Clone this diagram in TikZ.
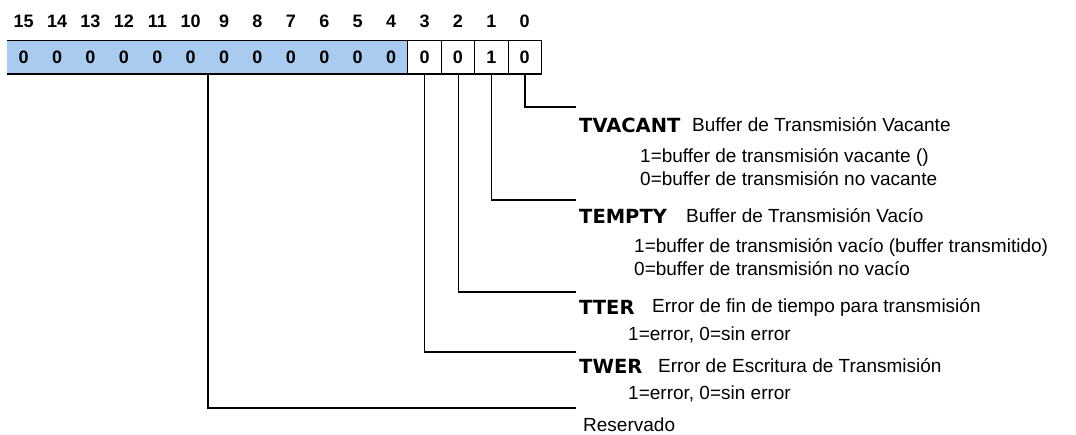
\documentclass[tikz,border=0pt]{standalone}
\usepackage{fontspec}
\setmainfont{Liberation Sans}
\newfontfamily\lblfont{DejaVu Sans}
\begin{document}
\begin{tikzpicture}[x=1pt,y=-1pt,
  bitnum/.style={font=\fontsize{18}{18}\selectfont\bfseries, anchor=center, inner sep=0pt},
  cellval/.style={font=\fontsize{18}{18}\selectfont\bfseries, anchor=center, inner sep=0pt},
  fieldname/.style={font=\lblfont\fontsize{19.5}{19.5}\selectfont\bfseries, anchor=west, inner sep=0pt},
  desc/.style={font=\fontsize{19}{19}\selectfont, anchor=west, inner sep=0pt},
  leader/.style={line width=1.2pt, black}]
\useasboundingbox (0,0) rectangle (1076,434);
% register
\fill[fill={rgb,255:red,169;green,203;blue,240}] (7,40) rectangle (407.8,74);
\draw[line width=1pt] (7,40) -- (541.6,40);
\draw[line width=1.6pt] (7,74) -- (541.6,74);
\draw[line width=1pt] (407.8,40) -- (407.8,74);
\foreach \i in {13,14,15} { \draw[line width=1pt] (7+33.4*\i,40) -- (7+33.4*\i,74); }
\draw[line width=1pt] (541.6,40) -- (541.6,74);
\foreach \b [count=\i from 0] in {15,14,...,0} {
  \node[bitnum] (n\b) at (7+33.4*\i+16.7,21) {\b};
}
\foreach \b/\v [count=\i from 0] in {15/0,14/0,13/0,12/0,11/0,10/0,9/0,8/0,7/0,6/0,5/0,4/0,3/0,2/0,1/1,0/0} {
  \node[cellval] (c\b) at (7+33.4*\i+16.7,57) {\v};
}
% leader origins (bottom of register)
\coordinate (b0) at (524.9,74);
\coordinate (b1) at (491.5,74);
\coordinate (b2) at (458.1,74);
\coordinate (b3) at (424.7,74);
\coordinate (b9) at (208,74);
% labels
\node[fieldname] (tvacant) at (579,125) {TVACANT};
\node[desc] (tvacantd) at (692,125) {Buffer de Transmisión Vacante};
\node[desc] (tvacant1) at (640,157) {1=buffer de transmisión vacante ()};
\node[desc] (tvacant0) at (640,179) {0=buffer de transmisión no vacante};
\node[fieldname] (tempty) at (579,216) {TEMPTY};
\node[desc] (temptyd) at (686,216) {Buffer de Transmisión Vacío};
\node[desc] (tempty1) at (634,247) {1=buffer de transmisión vacío (buffer transmitido)};
\node[desc] (tempty0) at (634,269) {0=buffer de transmisión no vacío};
\node[fieldname] (tter) at (579,307) {TTER};
\node[desc] (tterd) at (652,307) {Error de fin de tiempo para transmisión};
\node[desc] (tter1) at (628,335) {1=error, 0=sin error};
\node[fieldname] (twer) at (579,366) {TWER};
\node[desc] (twerd) at (658,366) {Error de Escritura de Transmisión};
\node[desc] (twer1) at (628,394) {1=error, 0=sin error};
\node[desc] (res) at (583,425) {Reservado};
% leaders
\coordinate (e0) at (576,107);
\coordinate (e1) at (576,200);
\coordinate (e2) at (576,292);
\coordinate (e3) at (576,352);
\coordinate (e9) at (576,408);
\draw[leader] (b0) |- (e0);
\draw[leader] (b1) |- (e1);
\draw[leader] (b2) |- (e2);
\draw[leader] (b3) |- (e3);
\draw[leader] (b9) |- (e9);
\end{tikzpicture}
\end{document}
